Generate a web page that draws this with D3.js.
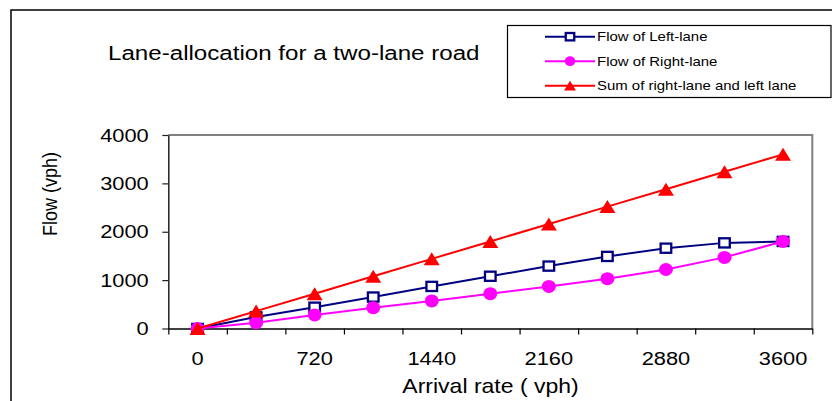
<!DOCTYPE html>
<html>
<head>
<meta charset="utf-8">
<script src="https://cdn.jsdelivr.net/npm/d3@7"></script>
<style>
  html, body { margin: 0; padding: 0; background: #fff; }
  svg { display: block; }
  text { font-family: "Liberation Sans", Arial, sans-serif; fill: #000; }
</style>
</head>
<body>
<svg id="chart" width="832" height="401"></svg>
<script>
// Arrival rate categories (vph)
const categories = [0, 360, 720, 1080, 1440, 1800, 2160, 2520, 2880, 3240, 3600];
// Lane flows (vph)
const leftLane  = [0, 240, 440, 650, 870, 1080, 1290, 1490, 1660, 1770, 1800];
const rightLane = [0, 120, 280, 430, 570, 720, 870, 1030, 1220, 1470, 1800];
const sumLanes  = [0, 360, 720, 1080, 1440, 1800, 2160, 2520, 2880, 3240, 3600];
// Axis labels
const xTickLabels = [0, 720, 1440, 2160, 2880, 3600];
const yTickValues = [0, 1000, 2000, 3000, 4000];

const seriesNames = ["Flow of Left-lane", "Flow of Right-lane", "Sum of right-lane and left lane"];

const SX = 1.15; // horizontal text stretch used throughout the chart

const svg = d3.select("#chart");

// Outer chart frame
svg.append("rect")
  .attr("x", 11).attr("y", 10).attr("width", 900).attr("height", 500)
  .attr("fill", "none").attr("stroke", "#000").attr("stroke-width", 1.5);

const plot = { left: 168.3, right: 812.3, top: 135, bottom: 328.5 };

const x = d3.scaleBand().domain(categories).range([plot.left, plot.right]).paddingInner(0).paddingOuter(0);
const xIdx = d3.scaleLinear().domain([0, categories.length]).range([plot.left, plot.right]);
const y = d3.scaleLinear().domain([0, 4000]).range([plot.bottom, plot.top]);
const cx = d => x(d) + x.bandwidth() / 2;

// Plot area border (grey top and right)
svg.append("path")
  .attr("d", `M${plot.left},${plot.top}H${plot.right}V${plot.bottom}`)
  .attr("fill", "none").attr("stroke", "#808080").attr("stroke-width", 2);

// Y axis
const yAxis = svg.append("g")
  .attr("transform", `translate(${plot.left},0)`)
  .call(d3.axisLeft(y).tickValues(yTickValues).tickFormat(d3.format("d"))
    .tickSize(6).tickPadding(11).tickSizeOuter(0));
yAxis.select(".domain").attr("stroke", "#222").attr("stroke-width", 1.5);
yAxis.selectAll(".tick line").attr("stroke", "#222").attr("stroke-width", 1.2);
yAxis.selectAll(".tick text")
  .style("font-size", "19px")
  .style("font-family", "'Liberation Sans', Arial, sans-serif")
  .attr("fill", "#000")
  .attr("transform", `scale(${SX},1)`);

// X axis: tick marks at category boundaries
const xBound = svg.append("g")
  .attr("transform", `translate(0,${plot.bottom})`)
  .call(d3.axisBottom(xIdx).tickValues(d3.range(categories.length + 1)).tickFormat("").tickSize(6).tickSizeOuter(0));
xBound.select(".domain").attr("stroke", "#000").attr("stroke-width", 1.5);
xBound.selectAll(".tick line").attr("stroke", "#000").attr("stroke-width", 1.2);

// X axis: labels at category centres
const xLab = svg.append("g")
  .attr("transform", `translate(0,${plot.bottom})`)
  .call(d3.axisBottom(x).tickValues(xTickLabels).tickSize(0).tickPadding(23));
xLab.select(".domain").remove();
xLab.selectAll(".tick text")
  .style("font-size", "19px")
  .style("font-family", "'Liberation Sans', Arial, sans-serif")
  .attr("fill", "#000")
  .attr("transform", `scale(${SX},1)`);

// Text helper with horizontal stretch
function stretchedText(g, tx, ty, str, size, anchor, rot) {
  return g.append("text")
    .attr("transform", `translate(${tx},${ty}) scale(${SX},1)` + (rot ? ` rotate(${rot})` : ""))
    .attr("text-anchor", anchor || "start")
    .style("font-size", size + "px")
    .text(str);
}

// Title and axis titles
stretchedText(svg, 108, 60, "Lane-allocation for a two-lane road", 21, "start");
stretchedText(svg, 490.5, 393, "Arrival rate ( vph)", 20, "middle");
stretchedText(svg, 57, 194, "Flow (vph)", 18, "middle", -90);

// Marker shapes
const markers = {
  square: (g, px, py, s) => g.append("rect")
    .attr("x", px - 5.3 * s).attr("y", py - 4.6 * s)
    .attr("width", 10.6 * s).attr("height", 9.2 * s)
    .attr("fill", "#fff").attr("stroke", "#000080").attr("stroke-width", 2.3),
  circle: (g, px, py, s) => g.append("ellipse")
    .attr("cx", px).attr("cy", py).attr("rx", 7 * s).attr("ry", 6.5 * s)
    .attr("fill", "#FF00FF"),
  triangle: (g, px, py, s) => g.append("path")
    .attr("d", `M${px - 8 * s},${py + 6.5 * s}L${px + 8 * s},${py + 6.5 * s}L${px},${py - 6.5 * s}Z`)
    .attr("fill", "#FF0000")
};

const series = [
  { name: seriesNames[0], values: leftLane,  color: "#000080", marker: "square" },
  { name: seriesNames[1], values: rightLane, color: "#FF00FF", marker: "circle" },
  { name: seriesNames[2], values: sumLanes,  color: "#FF0000", marker: "triangle" }
];

const line = d3.line().x(d => cx(d.c)).y(d => y(d.v));

series.forEach(s => {
  const pts = categories.map((c, i) => ({ c, v: s.values[i] }));
  const g = svg.append("g");
  g.append("path").datum(pts)
    .attr("d", line).attr("fill", "none")
    .attr("stroke", s.color).attr("stroke-width", 2);
  pts.forEach(p => markers[s.marker](g, cx(p.c), y(p.v), 1));
});

// Legend
const legend = svg.append("g");
legend.append("rect")
  .attr("x", 507.5).attr("y", 25.5).attr("width", 323.5).attr("height", 72)
  .attr("fill", "#fff").attr("stroke", "#000").attr("stroke-width", 1.2);
const legendY = d3.scalePoint().domain(seriesNames).range([36.7, 85.7]);
series.forEach(s => {
  const ly = legendY(s.name);
  legend.append("line")
    .attr("x1", 545).attr("x2", 595).attr("y1", ly).attr("y2", ly)
    .attr("stroke", s.color).attr("stroke-width", 2);
  markers[s.marker](legend, 570, ly, s.marker === "square" ? 0.8 : 0.75);
  stretchedText(legend, 597, ly + 4.6, s.name, 13, "start");
});
</script>
</body>
</html>
